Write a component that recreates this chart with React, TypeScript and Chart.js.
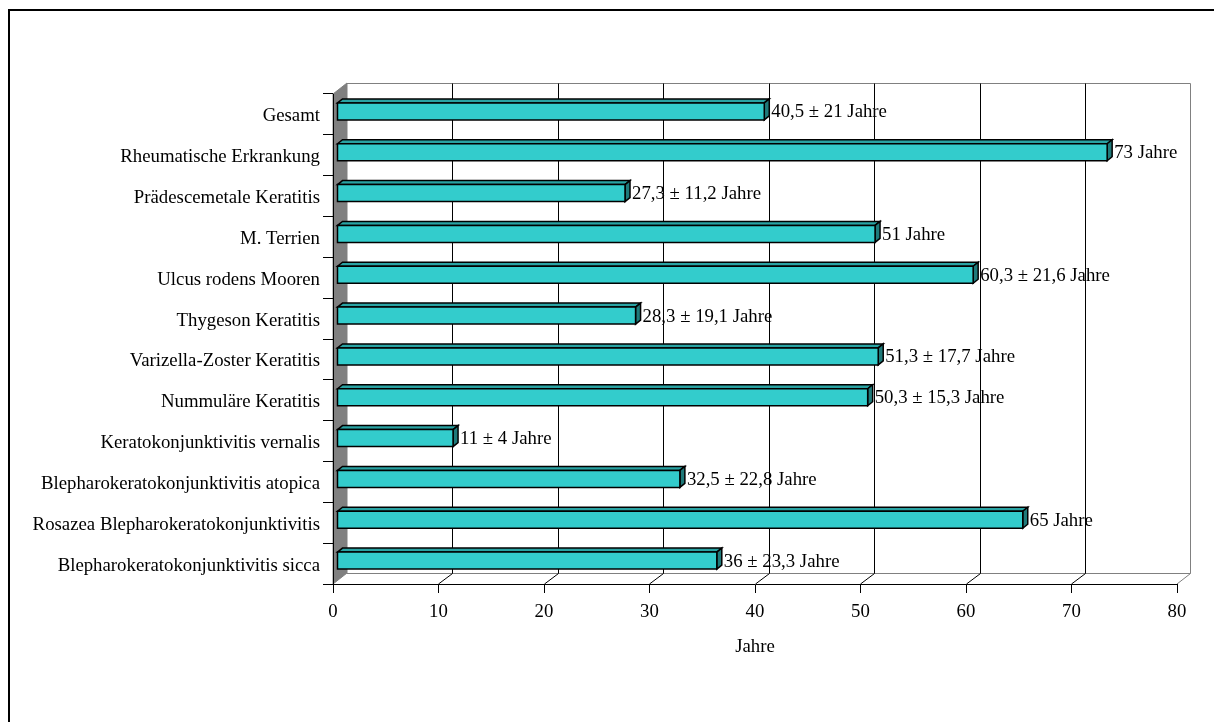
import React, { useEffect, useRef } from "react";
import { Chart, registerables } from "chart.js";

Chart.register(...registerables);

const categories = [
  "Gesamt",
  "Rheumatische Erkrankung",
  "Prädescemetale Keratitis",
  "M. Terrien",
  "Ulcus rodens Mooren",
  "Thygeson Keratitis",
  "Varizella-Zoster Keratitis",
  "Nummuläre Keratitis",
  "Keratokonjunktivitis vernalis",
  "Blepharokeratokonjunktivitis atopica",
  "Rosazea Blepharokeratokonjunktivitis",
  "Blepharokeratokonjunktivitis sicca",
];
const meanAge = [40.5, 73, 27.3, 51, 60.3, 28.3, 51.3, 50.3, 11, 32.5, 65, 36];
const sdAge: (number | null)[] = [21, null, 11.2, null, 21.6, 19.1, 17.7, 15.3, 4, 22.8, null, 23.3];
const xMin = 0;
const xMax = 80;
const xStep = 10;
const axisTitle = "Jahre";
const unit = "Jahre";

const FONT_FAMILY = "'Liberation Serif', 'Times New Roman', serif";
const FONT_SIZE = 18.8;

// 3D geometry (styles)
const DX = 14; // wall depth
const DY = -11;
const BOX = 4; // bar offset from front plane
const BOY = -3;
const BDX = 5; // bar depth
const BDY = -4;

const fmt = (n: number) => String(n).replace(".", ",");
const labelFor = (i: number) =>
  sdAge[i] == null ? `${fmt(meanAge[i])} ${unit}` : `${fmt(meanAge[i])} ± ${fmt(sdAge[i] as number)} ${unit}`;

const threeDPlugin = {
  id: "threeD",
  beforeDraw(chart: any) {
    const ctx = chart.ctx as CanvasRenderingContext2D;
    const { left, right, top, bottom } = chart.chartArea;
    ctx.save();
    ctx.fillStyle = "#fff";
    ctx.fillRect(0, 0, chart.width, chart.height);
    // outer frame
    ctx.fillStyle = "#000";
    ctx.fillRect(8, 9, 2, chart.height);
    ctx.fillRect(8, 9, chart.width, 2);

    // left wall
    ctx.fillStyle = "#808080";
    ctx.beginPath();
    ctx.moveTo(left, top);
    ctx.lineTo(left + DX, top + DY);
    ctx.lineTo(left + DX, bottom + DY);
    ctx.lineTo(left, bottom);
    ctx.closePath();
    ctx.fill();
    ctx.strokeStyle = "#808080";
    ctx.lineWidth = 1;
    ctx.stroke();

    // back wall frame
    const bt = top + DY + 0.5;
    const bb = bottom + DY + 0.5;
    const br = right + DX - 0.5;
    ctx.strokeStyle = "#808080";
    ctx.lineWidth = 1;
    ctx.beginPath();
    ctx.moveTo(left + DX, bt);
    ctx.lineTo(br, bt);
    ctx.lineTo(br, bb);
    ctx.lineTo(left + DX, bb);
    ctx.stroke();
    // floor right diagonal
    ctx.beginPath();
    ctx.moveTo(br, bb);
    ctx.lineTo(right, bottom);
    ctx.stroke();

    // gridlines on back wall + floor
    const xs = chart.scales.x;
    ctx.strokeStyle = "#000";
    for (const t of xs.ticks) {
      const v = t.value;
      if (v <= xMin || v >= xMax) continue;
      const px = xs.getPixelForValue(v);
      const bx = Math.floor(px + DX) + 0.5;
      ctx.beginPath();
      ctx.moveTo(bx, bt);
      ctx.lineTo(bx, bb);
      ctx.lineTo(Math.floor(px) + 0.5, bottom);
      ctx.stroke();
    }
    ctx.restore();
  },
  afterDatasetsDraw(chart: any) {
    const ctx = chart.ctx as CanvasRenderingContext2D;
    const meta = chart.getDatasetMeta(0);
    ctx.save();
    ctx.lineWidth = 1.5;
    ctx.strokeStyle = "#000";
    ctx.lineJoin = "miter";
    meta.data.forEach((el: any, i: number) => {
      const { x, y, base, height } = el.getProps(["x", "y", "base", "height"], true);
      const l = base + BOX;
      const r = x + BOX;
      const t = y - height / 2 + BOY;
      const b = y + height / 2 + BOY;
      // top face
      ctx.fillStyle = "#29A3A3";
      ctx.beginPath();
      ctx.moveTo(l, t);
      ctx.lineTo(l + BDX, t + BDY);
      ctx.lineTo(r + BDX, t + BDY);
      ctx.lineTo(r, t);
      ctx.closePath();
      ctx.fill();
      ctx.stroke();
      // side face
      ctx.fillStyle = "#1F7A7A";
      ctx.beginPath();
      ctx.moveTo(r, t);
      ctx.lineTo(r + BDX, t + BDY);
      ctx.lineTo(r + BDX, b + BDY);
      ctx.lineTo(r, b);
      ctx.closePath();
      ctx.fill();
      ctx.stroke();
      // front face
      ctx.fillStyle = "#33CCCC";
      ctx.beginPath();
      ctx.rect(l, t, r - l, b - t);
      ctx.fill();
      ctx.stroke();
      // value label
      ctx.fillStyle = "#000";
      ctx.font = `${FONT_SIZE}px ${FONT_FAMILY}`;
      ctx.textAlign = "left";
      ctx.textBaseline = "middle";
      ctx.fillText(labelFor(i), r + BDX + 2, (t + b) / 2 + 1);
    });
    ctx.restore();
  },
};

export default function App() {
  const ref = useRef<HTMLCanvasElement>(null);
  useEffect(() => {
    if (!ref.current) return;
    const font = { family: FONT_FAMILY, size: FONT_SIZE };
    const chart = new Chart(ref.current, {
      type: "bar",
      data: {
        labels: categories,
        datasets: [
          {
            data: meanAge,
            backgroundColor: "rgba(0,0,0,0)",
            borderWidth: 0,
            barPercentage: 17 / 40.83,
            categoryPercentage: 1,
          },
        ],
      },
      options: {
        indexAxis: "y",
        responsive: false,
        animation: false,
        layout: { padding: { left: 0, top: 94, right: 37, bottom: 64 } },
        plugins: { legend: { display: false }, tooltip: { enabled: false } },
        scales: {
          x: {
            min: xMin,
            max: xMax,
            ticks: { stepSize: xStep, color: "#000", font, padding: 8 },
            grid: { drawOnChartArea: false, tickLength: 9, color: "#000" },
            border: { color: "#000" },
            title: { display: true, text: axisTitle, color: "#000", font, padding: 0 },
            afterFit: (s: any) => {
              s.height = 74;
            },
          },
          y: {
            ticks: { color: "#000", font, padding: 3, labelOffset: 2 },
            grid: { drawOnChartArea: false, tickLength: 10, color: "#000", offset: true },
            border: { color: "#000" },
            afterFit: (s: any) => {
              s.width = 333;
            },
          },
        },
      } as any,
      plugins: [threeDPlugin],
    });
    return () => chart.destroy();
  }, []);
  return (
    <canvas
      ref={ref}
      width={1214}
      height={722}
      style={{ position: "fixed", left: 0, top: 0, width: 1214, height: 722 }}
    />
  );
}
